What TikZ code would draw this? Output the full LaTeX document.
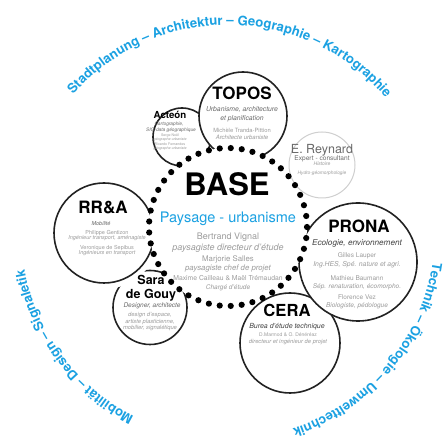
\documentclass[tikz,border=0pt]{standalone}
\usepackage{fontspec}
\setmainfont{TeX Gyre Heros}
\usetikzlibrary{decorations.text}
\definecolor{cblue}{RGB}{27,161,226}
\definecolor{ink}{HTML}{222222}
\definecolor{g1}{HTML}{444444}
\definecolor{g2}{HTML}{6A6A6A}
\definecolor{g3}{HTML}{9C9C9C}
\definecolor{lring}{HTML}{CFCFCF}
\newcommand\fs[1]{\fontsize{#1bp}{#1bp}\selectfont}
\begin{document}
\begin{tikzpicture}[x=1bp,y=1bp,
  ring/.style={circle, draw=ink, line width=1.6bp, fill=white, inner sep=0pt, outer sep=0pt, minimum size=#1},
  halo/.style={preaction={draw=white, line width=#1}},
  tx/.style={inner sep=0pt, anchor=mid},
  ttl/.style={tx, text=black, font={\fs{#1}\bfseries}},
  desc/.style={tx, text=g2, font={\fs{#1}\itshape}},
  nm/.style={tx, text=g3, font={\fs{#1}}},
  sub/.style={tx, text=g3, font={\fs{#1}\itshape}},
  arctext/.style={decorate, decoration={text along path, text color=cblue, text={|\fs{13.2}\bfseries|#1}}}
]
\useasboundingbox (0,0) rectangle (446,441);
\fill[white] (0,0) rectangle (446,441);

% rings (drawing order matters)
\node[ring=58bp] (acteon) at (182,304) {};
\node[ring=88bp] (topos) at (243,325) {};
\node[ring=66bp, draw=lring, line width=1bp] (reynard) at (322,276) {};
\node[ring=74bp] (sara) at (150,133.5) {};
\node[ring=100bp, halo=12bp] (rra) at (104,208) {};
\node[ring=100bp] (cera) at (290,98) {};
\node[ring=118bp] (prona) at (358,179) {};
\node[circle, fill=white, draw=black, line width=6.2bp, dash pattern=on 0bp off 11.03bp, line cap=round, inner sep=0pt, minimum size=158bp] (base) at (228,214) {};

% outer ring text
\path[arctext={Stadtplanung – Architektur – Geographie – Kartographie}] (228,209) ++(138.4:207) arc[start angle=138.4, end angle=20, radius=207];
\path[arctext={Mobilität – Design – Signaletik}] (228,209) ++(243:207) arc[start angle=243, end angle=180, radius=207];
\path[arctext={Technik – Ökologie – Umwelttechnik}] (228,209) ++(-8.5:207) arc[start angle=-8.5, end angle=-85, radius=207];

% BASE
\node[ttl=31] (baseT) at (227,248) {BASE};
\node[tx, text=cblue, font={\fs{14.5}}] (baseS) at (228,221) {Paysage - urbanisme};
\node[nm=9] (baseN1) at (228,204) {Bertrand Vignal};
\node[sub=9] (baseD1) at (228,193) {paysagiste directeur d'étude};
\node[nm=7.8] (baseN2) at (228,182) {Marjorie Salles};
\node[sub=7.8] (baseD2) at (228,173) {paysagiste chef de projet};
\node[nm=6.8] (baseN3) at (228,163) {Maxime Cailleau \& Maël Trémaudan};
\node[sub=6.5] (baseD3) at (228,154) {Chargé d'étude};

% TOPOS
\node[ttl=17] (toposT) at (242,344) {TOPOS};
\node[desc=6.8] (toposS1) at (242,332) {Urbanisme, architecture};
\node[desc=6.8] (toposS2) at (242,323) {et planification};
\node[nm=5.8] (toposN) at (242,311) {Michèle Tranda-Pittion};
\node[sub=6] (toposD) at (242,304) {Architecte urbaniste};

% Acteon
\node[ttl=9.7] (acteonT) at (170,325) {Acteón};
\node[desc=4.8] (acteonS1) at (169,318) {Cartographie,};
\node[desc=4.8] (acteonS2) at (171,312) {SIG-data géographique};
\node[nm=3.6] (acteonN1) at (170,307) {Serge Noël};
\node[sub=3.6] (acteonD1) at (170,303) {géographe-urbaniste};
\node[nm=3.6] (acteonN2) at (170,298) {Ricardo Fernandes};
\node[sub=3.6] (acteonD2) at (170,294) {géographe-urbaniste};

% E. Reynard
\node[tx, text=g2, font={\fs{12.5}}] (reynardT) at (322,290) {E. Reynard};
\node[tx, text=g2, font={\fs{6.6}}] (reynardS) at (322,283) {Expert - consultant};
\node[sub=5] (reynardD1) at (322,278) {Histoire};
\node[sub=4.8] (reynardD2) at (322,269) {Hydro-géomorphologie};

% RR&A
\node[ttl=17] (rraT) at (103,230.5) {RR\&A};
\node[desc=5.5] (rraS) at (101,218) {Mobilité};
\node[nm=5.5] (rraN1) at (107,209) {Philippe Gentizon};
\node[sub=5.5] (rraD1) at (107,204) {Ingénieur transport, aménagiste};
\node[nm=5.5] (rraN2) at (107,194) {Veronique de Sepibus};
\node[sub=5.5] (rraD2) at (107,189) {Ingénieurs en transport};

% Sara de Gouy
\node[ttl=12.5] (saraT1) at (151,158.8) {Sara};
\node[ttl=12.5] (saraT2) at (151,144.8) {de Gouy};
\node[desc=6.5] (saraS) at (152,136) {Designer, architecte};
\node[sub=5.8] (saraD1) at (150,127) {design d'espace,};
\node[sub=5.8] (saraD2) at (150,120.5) {artiste plasticienne,};
\node[sub=5.8] (saraD3) at (150,114.5) {mobilier, signalétique};

% PRONA
\node[ttl=17] (pronaT) at (359,211) {PRONA};
\node[tx, text=g1, font={\fs{8.2}\itshape}] (pronaS) at (357,198) {Ecologie, environnement};
\node[nm=6.5] (pronaN1) at (357,186) {Gilles Lauper};
\node[sub=6.8] (pronaD1) at (357,177) {Ing.HES, Spé. nature et agri.};
\node[nm=6.5] (pronaN2) at (357,163) {Mathieu Baumann};
\node[sub=6.5] (pronaD2) at (357,155) {Sép. renaturation, écomorpho.};
\node[nm=6.5] (pronaN3) at (357,144) {Florence Vez};
\node[sub=6.5] (pronaD3) at (357,136) {Biologiste, pédologue};

% CERA
\node[ttl=16.6] (ceraT) at (287,127.5) {CERA};
\node[tx, text=g1, font={\fs{7}\itshape}] (ceraS) at (287,115) {Burea d'étude technique};
\node[nm=5] (ceraN) at (288,107) {D.Marmod \& O. Dénéréaz};
\node[sub=5.8] (ceraD) at (288,100) {directeur et ingénieur de projet};
\end{tikzpicture}
\end{document}
